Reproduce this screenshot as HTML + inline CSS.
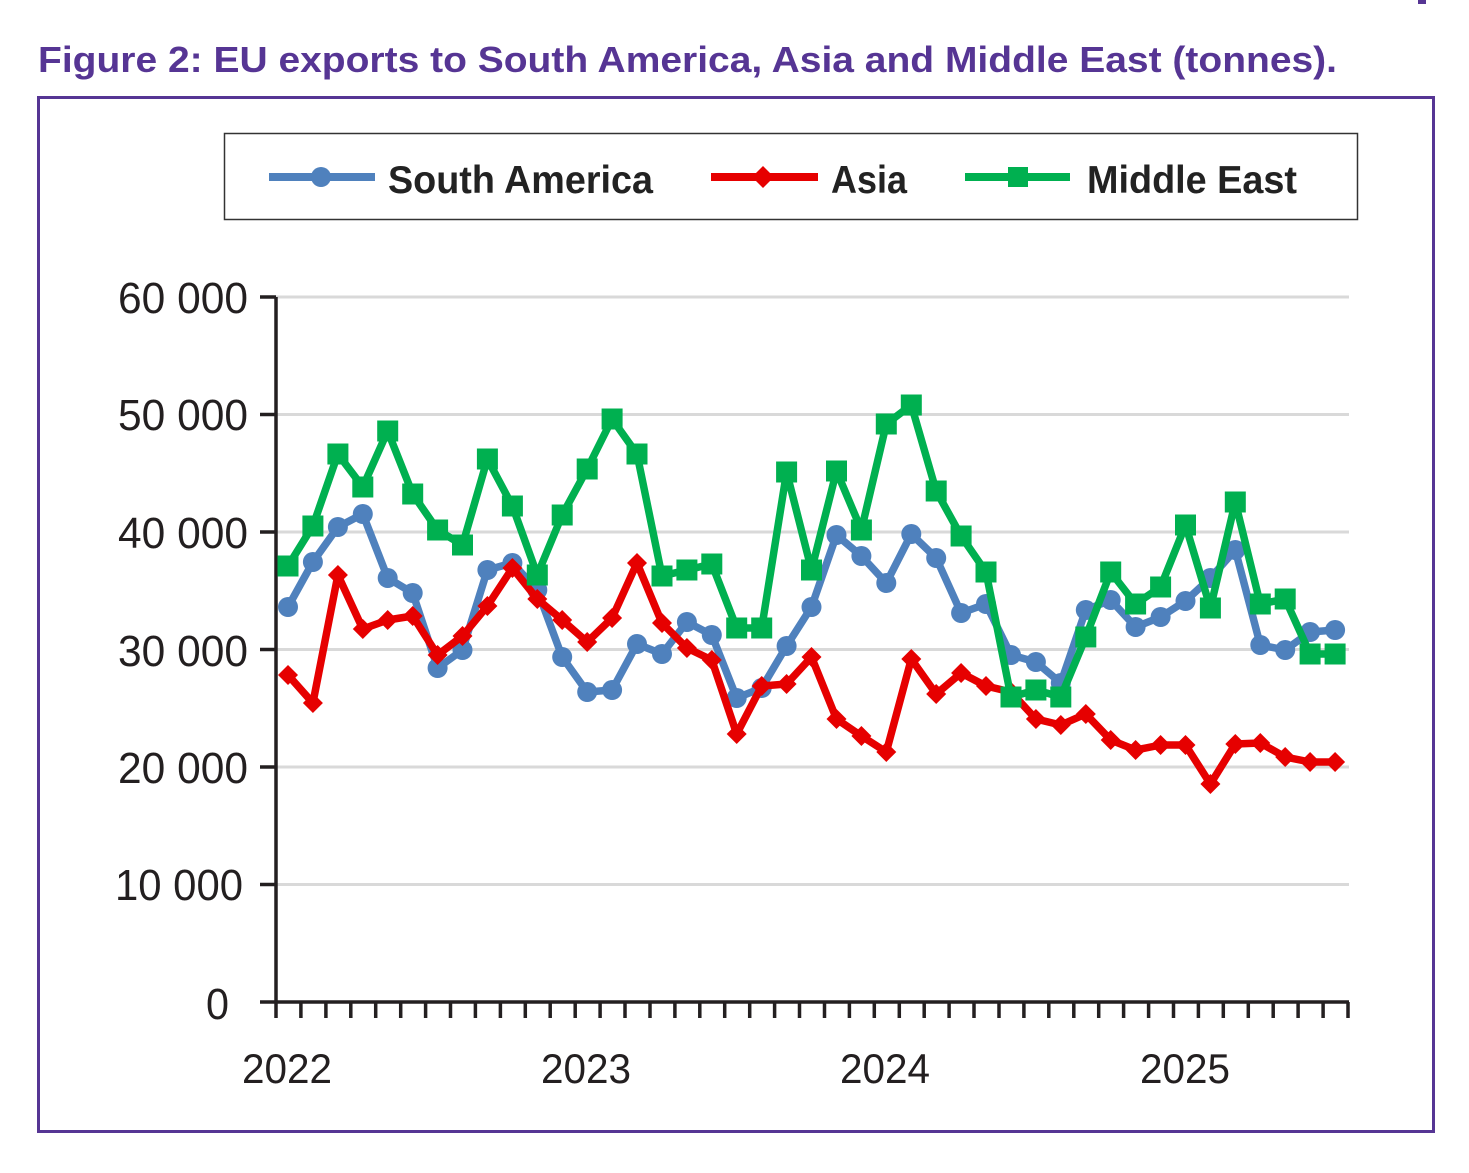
<!DOCTYPE html>
<html><head><meta charset="utf-8"><style>
html,body{margin:0;padding:0;background:#fff;}
svg{display:block;}
</style></head><body>
<svg width="1469" height="1173" viewBox="0 0 1469 1173" xmlns="http://www.w3.org/2000/svg">
<defs>
<marker id="mc" markerUnits="userSpaceOnUse" markerWidth="24" markerHeight="24" refX="12" refY="12" overflow="visible"><circle cx="12" cy="12" r="10" fill="#4F81BD"/></marker>
<marker id="md" markerUnits="userSpaceOnUse" markerWidth="24" markerHeight="24" refX="12" refY="12" overflow="visible"><polygon points="12,2 22,12 12,22 2,12" fill="#E60000"/></marker>
<marker id="ms" markerUnits="userSpaceOnUse" markerWidth="24" markerHeight="24" refX="12" refY="12" overflow="visible"><rect x="1.5" y="1.5" width="21" height="21" fill="#00B050"/></marker>
</defs>
<rect width="1469" height="1173" fill="#fff"/>
<rect x="1418" y="0" width="8" height="4" fill="#563594"/>
<text x="38" y="72" font-family="Liberation Sans, sans-serif" font-size="36" font-weight="bold" fill="#563594" textLength="1299" lengthAdjust="spacingAndGlyphs">Figure 2: EU exports to South America, Asia and Middle East (tonnes).</text>
<rect x="38.5" y="97.5" width="1395" height="1034" fill="none" stroke="#563594" stroke-width="3"/>
<!-- legend -->
<rect x="224.5" y="133.5" width="1133" height="86" fill="none" stroke="#333" stroke-width="1.5"/>
<line x1="269" y1="177" x2="375" y2="177" stroke="#4F81BD" stroke-width="8"/>
<circle cx="321" cy="177" r="10" fill="#4F81BD"/>
<text x="388" y="193" font-family="Liberation Sans, sans-serif" font-size="39" font-weight="bold" fill="#222" textLength="265" lengthAdjust="spacingAndGlyphs">South America</text>
<line x1="711" y1="177" x2="818" y2="177" stroke="#E60000" stroke-width="8"/>
<polygon points="763,166 774,177 763,188 752,177" fill="#E60000"/>
<text x="831" y="193" font-family="Liberation Sans, sans-serif" font-size="39" font-weight="bold" fill="#222" textLength="76" lengthAdjust="spacingAndGlyphs">Asia</text>
<line x1="965" y1="177" x2="1070" y2="177" stroke="#00B050" stroke-width="8"/>
<rect x="1008" y="167" width="20" height="20" fill="#00B050"/>
<text x="1087" y="193" font-family="Liberation Sans, sans-serif" font-size="39" font-weight="bold" fill="#222" textLength="210" lengthAdjust="spacingAndGlyphs">Middle East</text>
<!-- gridlines -->
<g stroke="#D9D9D9" stroke-width="3">
<line x1="276" y1="297" x2="1349" y2="297"/>
<line x1="276" y1="414.5" x2="1349" y2="414.5"/>
<line x1="276" y1="532" x2="1349" y2="532"/>
<line x1="276" y1="649.5" x2="1349" y2="649.5"/>
<line x1="276" y1="767" x2="1349" y2="767"/>
<line x1="276" y1="884.5" x2="1349" y2="884.5"/>
</g>
<!-- axes -->
<g stroke="#231F20" stroke-width="3.5" fill="none">
<line x1="276" y1="297" x2="276" y2="1018"/>
<line x1="260" y1="1002" x2="1349" y2="1002"/>
<line x1="260" y1="297" x2="276" y2="297"/>
<line x1="260" y1="414.5" x2="276" y2="414.5"/>
<line x1="260" y1="532" x2="276" y2="532"/>
<line x1="260" y1="649.5" x2="276" y2="649.5"/>
<line x1="260" y1="767" x2="276" y2="767"/>
<line x1="260" y1="884.5" x2="276" y2="884.5"/>
<path d="M300.9 1002V1018M325.9 1002V1018M350.8 1002V1018M375.7 1002V1018M400.7 1002V1018M425.6 1002V1018M450.5 1002V1018M475.4 1002V1018M500.4 1002V1018M525.3 1002V1018M550.2 1002V1018M575.2 1002V1018M600.1 1002V1018M625 1002V1018M650 1002V1018M674.9 1002V1018M699.8 1002V1018M724.7 1002V1018M749.7 1002V1018M774.6 1002V1018M799.5 1002V1018M824.5 1002V1018M849.4 1002V1018M874.3 1002V1018M899.3 1002V1018M924.2 1002V1018M949.1 1002V1018M974 1002V1018M999 1002V1018M1023.9 1002V1018M1048.8 1002V1018M1073.8 1002V1018M1098.7 1002V1018M1123.6 1002V1018M1148.6 1002V1018M1173.5 1002V1018M1198.4 1002V1018M1223.3 1002V1018M1248.3 1002V1018M1273.2 1002V1018M1298.1 1002V1018M1323.1 1002V1018M1348 1002V1018"/>
</g>
<!-- y labels -->
<g font-family="Liberation Sans, sans-serif" font-size="44" fill="#231F20">
<text x="118" y="313" textLength="130" lengthAdjust="spacingAndGlyphs">60 000</text>
<text x="118" y="430" textLength="130" lengthAdjust="spacingAndGlyphs">50 000</text>
<text x="118" y="548" textLength="130" lengthAdjust="spacingAndGlyphs">40 000</text>
<text x="118" y="666" textLength="130" lengthAdjust="spacingAndGlyphs">30 000</text>
<text x="118" y="783" textLength="130" lengthAdjust="spacingAndGlyphs">20 000</text>
<text x="115" y="900" textLength="128" lengthAdjust="spacingAndGlyphs">10 000</text>
<text x="206" y="1019" textLength="23" lengthAdjust="spacingAndGlyphs">0</text>
<text x="242" y="1083" font-size="42" textLength="90" lengthAdjust="spacingAndGlyphs">2022</text>
<text x="541" y="1083" font-size="42" textLength="90" lengthAdjust="spacingAndGlyphs">2023</text>
<text x="840" y="1083" font-size="42" textLength="90" lengthAdjust="spacingAndGlyphs">2024</text>
<text x="1140" y="1083" font-size="42" textLength="90" lengthAdjust="spacingAndGlyphs">2025</text>
</g>
<!-- series -->
<polyline fill="none" stroke="#4F81BD" stroke-width="7.5" stroke-linejoin="round" marker-start="url(#mc)" marker-mid="url(#mc)" marker-end="url(#mc)" points="288,607 312.9,562 337.9,527 362.8,514 387.7,578 412.7,593 437.6,668 462.5,650 487.4,570 512.4,563 537.3,590 562.2,657 587.2,692 612.1,690 637,644 662,654 686.9,622 711.8,635 736.7,698 761.7,688 786.6,646 811.5,607 836.5,535 861.4,556 886.3,583 911.3,534 936.2,558 961.1,613 986,604 1011,655 1035.9,662 1060.8,683 1085.8,610 1110.7,600 1135.6,627 1160.6,617 1185.5,601 1210.4,578 1235.3,550 1260.3,645 1285.2,650 1310.1,632 1335.1,630"/>
<polyline fill="none" stroke="#E60000" stroke-width="7.5" stroke-linejoin="round" marker-start="url(#md)" marker-mid="url(#md)" marker-end="url(#md)" points="288,675 312.9,703 337.9,575 362.8,629 387.7,620 412.7,616 437.6,655 462.5,636 487.4,606 512.4,568 537.3,599 562.2,620 587.2,642 612.1,618 637,563 662,623 686.9,648 711.8,660 736.7,734 761.7,686 786.6,684 811.5,657 836.5,719 861.4,736 886.3,752 911.3,659 936.2,694 961.1,673 986,686 1011,692 1035.9,719 1060.8,725 1085.8,714 1110.7,740 1135.6,750 1160.6,745 1185.5,745 1210.4,784 1235.3,744 1260.3,743 1285.2,757 1310.1,762 1335.1,762"/>
<polyline fill="none" stroke="#00B050" stroke-width="7.5" stroke-linejoin="round" marker-start="url(#ms)" marker-mid="url(#ms)" marker-end="url(#ms)" points="288,566 312.9,526 337.9,454 362.8,487 387.7,431 412.7,494 437.6,530 462.5,545 487.4,459 512.4,506 537.3,575 562.2,515 587.2,469 612.1,419 637,454 662,576 686.9,570 711.8,564 736.7,628 761.7,628 786.6,472 811.5,570 836.5,471 861.4,530 886.3,424 911.3,405 936.2,491 961.1,536 986,572 1011,697 1035.9,690 1060.8,697 1085.8,637 1110.7,572 1135.6,604 1160.6,587 1185.5,525 1210.4,608 1235.3,502 1260.3,604 1285.2,599 1310.1,654 1335.1,654"/>
</svg>
</body></html>
